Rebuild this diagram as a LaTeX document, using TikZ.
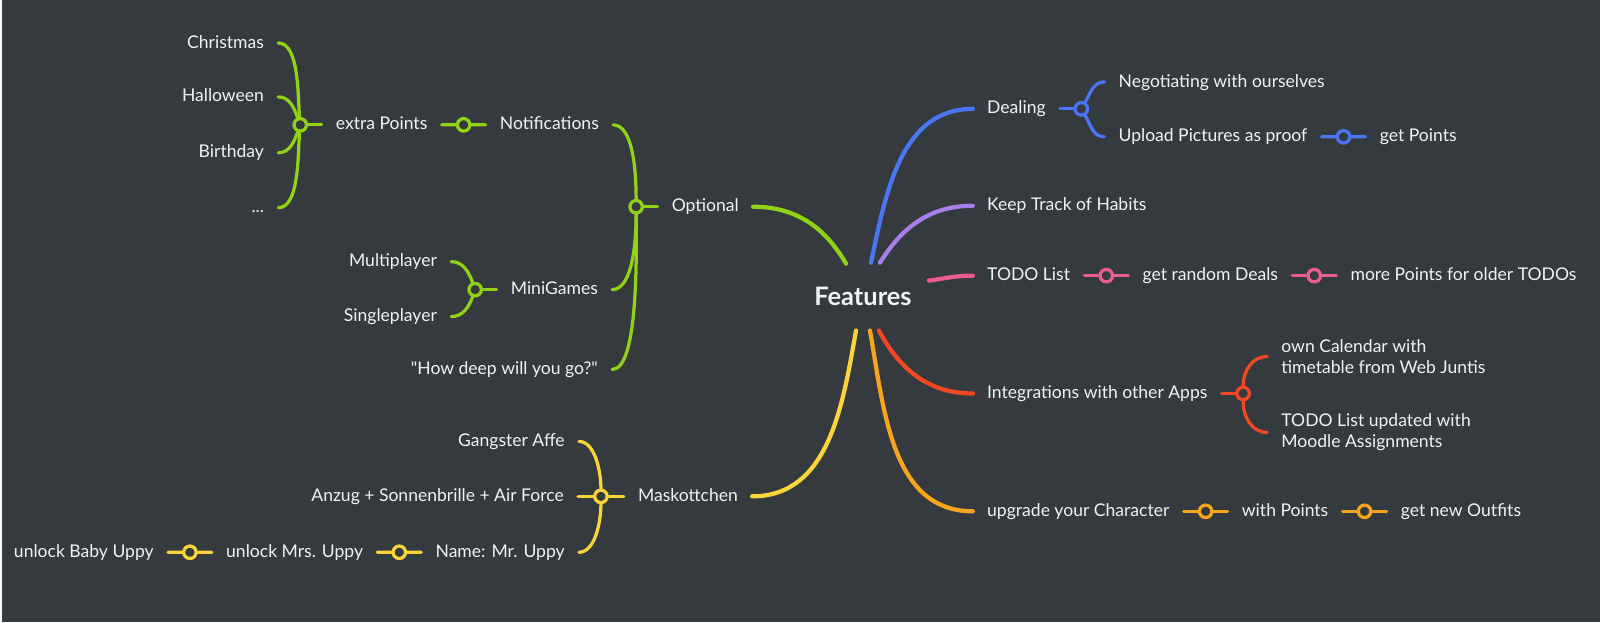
\documentclass[tikz,border=0pt]{standalone}
\usepackage{fontspec}
\setmainfont{Lato}
\usetikzlibrary{calc,positioning}
\definecolor{bgc}{RGB}{53,58,62}
\definecolor{fg}{RGB}{242,242,242}
\definecolor{clime}{RGB}{143,210,22}
\definecolor{cblue}{RGB}{74,118,245}
\definecolor{cpurple}{RGB}{168,126,232}
\definecolor{cpink}{RGB}{236,92,140}
\definecolor{cred}{RGB}{242,72,36}
\definecolor{corange}{RGB}{245,166,30}
\definecolor{cyellow}{RGB}{250,212,58}

\begin{document}
\begin{tikzpicture}[
    x=0.02cm, y=-0.02cm,
    font=\fontsize{10}{11.9}\selectfont,
    txt/.style={text=fg, inner xsep=0.28cm, inner ysep=1pt, text height=1.5ex, text depth=0.35ex},
    mtxt/.style={text=fg, inner xsep=0.28cm, align=left, anchor=west},
    knot/.style={circle, draw=#1, fill=bgc, line width=0.065cm, minimum size=0.25cm, inner sep=0pt},
    br/.style={draw=#1, line width=0.065cm, line cap=round},
    trunk/.style={draw=#1, line width=0.085cm, line cap=round},
]
\fill[bgc] (0,0) rectangle (1600,623);

% root
\node[font=\fontsize{14.5}{16}\selectfont\bfseries, text=fg] (feat) at (862,297) {Features};
\coordinate (fG) at (845,264);
\coordinate (fB) at (870,263);
\coordinate (fP) at (879,263);
\coordinate (fK) at (928,281);
\coordinate (fR) at (878,331);
\coordinate (fO) at (869,331);
\coordinate (fY) at (855,331);

% ---- right side ----
\node[txt, anchor=west] (deal) at (972,109) {Dealing};
\node[txt, anchor=west] (keep) at (972,206) {Keep Track of Habits};
\node[txt, anchor=west] (todo) at (972,276) {TODO List};
\node[txt, anchor=west] (integ) at (972,394) {Integrations with other Apps};
\node[txt, anchor=west] (upg) at (972,512) {upgrade your Character};

\draw[trunk=cblue] (fB) to[out=78, in=180] (deal.west);
\draw[trunk=cpurple] (fP) to[out=58, in=180] (keep.west);
\draw[trunk=cpink] (fK) to[out=8, in=180] (todo.west);
\draw[trunk=cred] (fR) to[out=-62, in=180] (integ.west);
\draw[trunk=corange] (fO) to[out=-80, in=180] (upg.west);

% dealing
\node[knot=cblue, right=0.27cm of deal] (kD) {};
\draw[br=cblue] (deal.east) -- (kD);
\node[txt, anchor=west] (nego) at ($(kD)+(23,-27)$) {Negotiating with ourselves};
\node[txt, anchor=west] (upl) at ($(kD)+(23,28)$) {Upload Pictures as proof};
\draw[br=cblue] (kD.60) to[out=60, in=180] (nego.west);
\draw[br=cblue] (kD.-60) to[out=-60, in=180] (upl.west);
\node[txt, right=0.88cm of upl] (getp) {get Points};
\node[knot=cblue] (kU) at ($(upl.east)!0.5!(getp.west)$) {};
\draw[br=cblue] (upl.east) -- (kU) -- (getp.west);

% todo list
\node[txt, right=0.88cm of todo] (rnd) {get random Deals};
\node[knot=cpink] (kT) at ($(todo.east)!0.5!(rnd.west)$) {};
\draw[br=cpink] (todo.east) -- (kT) -- (rnd.west);
\node[txt, right=0.88cm of rnd] (older) {more Points for older TODOs};
\node[knot=cpink] (kR) at ($(rnd.east)!0.5!(older.west)$) {};
\draw[br=cpink] (rnd.east) -- (kR) -- (older.west);

% integrations
\node[knot=cred, right=0.27cm of integ] (kI) {};
\draw[br=cred] (integ.east) -- (kI);
\node[mtxt] (cal) at ($(kI)+(24,-37)$) {own Calendar with\\timetable from Web Juntis};
\node[mtxt] (moodle) at ($(kI)+(24,39)$) {TODO List updated with\\Moodle Assignments};
\draw[br=cred] (kI.90) to[out=90, in=180] (cal.west);
\draw[br=cred] (kI.-90) to[out=-90, in=180] (moodle.west);

% character
\node[txt, right=0.88cm of upg] (withp) {with Points};
\node[knot=corange] (kC) at ($(upg.east)!0.5!(withp.west)$) {};
\draw[br=corange] (upg.east) -- (kC) -- (withp.west);
\node[txt, right=0.88cm of withp] (outf) {get new Outfits};
\node[knot=corange] (kW) at ($(withp.east)!0.5!(outf.west)$) {};
\draw[br=corange] (withp.east) -- (kW) -- (outf.west);

% ---- left side ----
\node[txt, anchor=east] (opt) at (752,207) {Optional};
\node[txt, anchor=east] (mask) at (751,497) {Maskottchen};
\draw[trunk=clime] (fG) to[out=120, in=0] (opt.east);
\draw[trunk=cyellow] (fY) to[out=-100, in=0] (mask.east);

% optional
\node[knot=clime, left=0.27cm of opt] (kO) {};
\draw[br=clime] (opt.west) -- (kO);
\node[txt, anchor=east] (notif) at ($(kO)+(-23,-82)$) {Notifications};
\node[txt, anchor=east] (mini) at ($(kO)+(-24,83)$) {MiniGames};
\node[txt, anchor=east] (deep) at ($(kO)+(-24,163)$) {\textquotedbl How deep will you go?\textquotedbl};
\draw[br=clime] (kO.90) to[out=90, in=0, looseness=0.7] (notif.east);
\draw[br=clime] (kO.-90) to[out=-90, in=0, looseness=0.7] (mini.east);
\draw[br=clime] (kO.-90) to[out=-90, in=0, looseness=0.45] (deep.east);

% notifications
\node[txt, left=0.88cm of notif] (xpts) {extra Points};
\node[knot=clime] (kN) at ($(xpts.east)!0.5!(notif.west)$) {};
\draw[br=clime] (xpts.east) -- (kN) -- (notif.west);
\node[knot=clime, left=0.27cm of xpts] (kX) {};
\draw[br=clime] (xpts.west) -- (kX);
\node[txt, anchor=east] (xmas) at ($(kX)+(-22,-82)$) {Christmas};
\node[txt, anchor=east] (hallo) at ($(kX)+(-22,-28)$) {Halloween};
\node[txt, anchor=east] (bday) at ($(kX)+(-22,28)$) {Birthday};
\node[txt, anchor=east] (dots) at ($(kX)+(-22,83)$) {...};
\draw[br=clime] (kX.95) to[out=95, in=0, looseness=0.7] (xmas.east);
\draw[br=clime] (kX.110) to[out=110, in=0] (hallo.east);
\draw[br=clime] (kX.-110) to[out=-110, in=0] (bday.east);
\draw[br=clime] (kX.-95) to[out=-95, in=0, looseness=0.7] (dots.east);

% minigames
\node[knot=clime, left=0.27cm of mini] (kM) {};
\draw[br=clime] (mini.west) -- (kM);
\node[txt, anchor=east] (multi) at ($(kM)+(-24,-28)$) {Multiplayer};
\node[txt, anchor=east] (single) at ($(kM)+(-24,27)$) {Singleplayer};
\draw[br=clime] (kM.110) to[out=110, in=0] (multi.east);
\draw[br=clime] (kM.-110) to[out=-110, in=0] (single.east);

% maskottchen
\node[knot=cyellow, left=0.3cm of mask] (kY) {};
\draw[br=cyellow] (mask.west) -- (kY);
\node[txt, anchor=east] (gang) at ($(kY)+(-22,-55)$) {Gangster Affe};
\node[txt, left=0.3cm of kY] (anzug) {Anzug + Sonnenbrille + Air Force};
\node[txt, anchor=east] (mrup) at ($(kY)+(-22,56)$) {Name: Mr. Uppy};
\draw[br=cyellow] (kY) -- (anzug.east);
\draw[br=cyellow] (kY.90) to[out=90, in=0, looseness=0.8] (gang.east);
\draw[br=cyellow] (kY.-90) to[out=-90, in=0, looseness=0.8] (mrup.east);
\node[txt, left=0.88cm of mrup] (mrs) {unlock Mrs. Uppy};
\node[knot=cyellow] (kS) at ($(mrs.east)!0.5!(mrup.west)$) {};
\draw[br=cyellow] (mrs.east) -- (kS) -- (mrup.west);
\node[txt, left=0.88cm of mrs] (baby) {unlock Baby Uppy};
\node[knot=cyellow] (kB) at ($(baby.east)!0.5!(mrs.west)$) {};
\draw[br=cyellow] (baby.east) -- (kB) -- (mrs.west);
\end{tikzpicture}
\end{document}
